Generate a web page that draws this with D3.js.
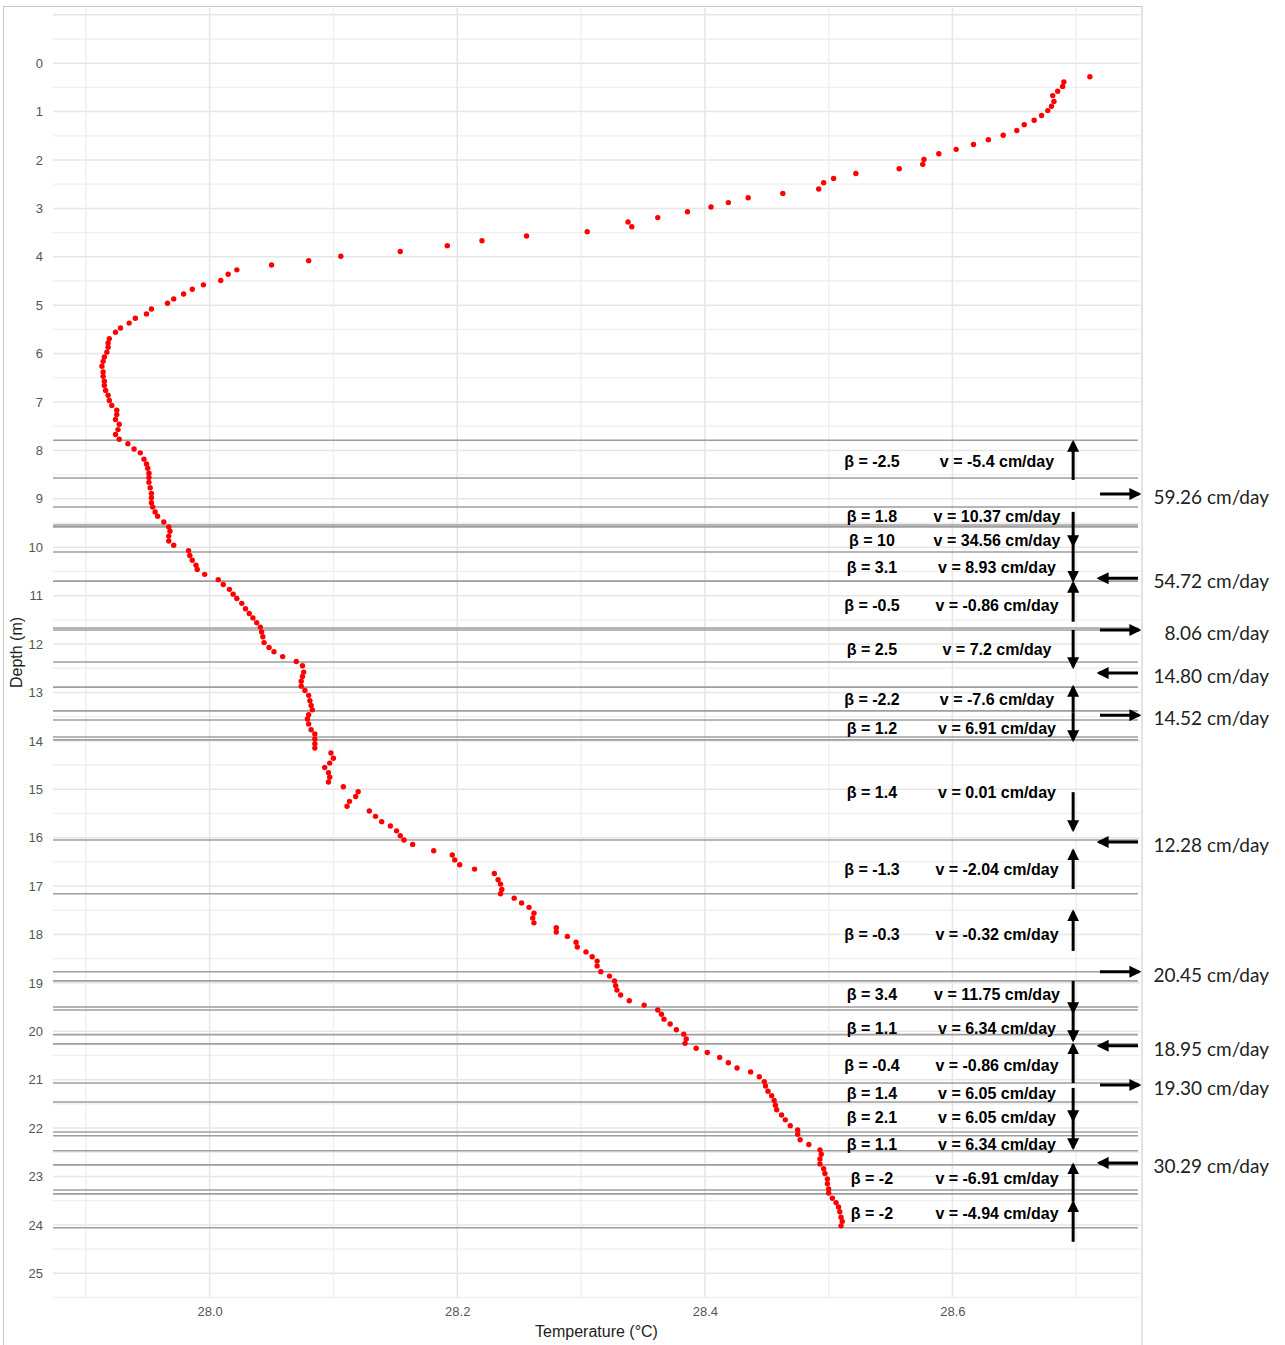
<!DOCTYPE html>
<html>
<head>
<meta charset="utf-8">
<script src="https://cdn.jsdelivr.net/npm/d3@7"></script>
<style>
  body { margin: 0; background: #fff; }
</style>
</head>
<body>
<div id="chart"></div>
<script>
// profil de température (profondeur en m, température en °C)
const depth = [0.28,0.39,0.48,0.58,0.67,0.79,0.89,0.98,1.08,1.18,1.27,1.39,1.49,1.58,1.68,1.78,1.87,1.99,2.09,2.18,
  2.28,2.38,2.47,2.60,2.69,2.78,2.88,2.97,3.07,3.19,3.28,3.38,3.48,3.57,3.67,3.77,3.89,3.99,4.08,4.17,
  4.27,4.36,4.49,4.58,4.67,4.77,4.87,4.96,5.08,5.18,5.27,5.37,5.47,5.56,5.69,5.78,5.87,5.97,6.07,6.16,
  6.26,6.38,6.47,6.57,6.66,6.76,6.86,6.97,7.07,7.17,7.26,7.36,7.46,7.57,7.67,7.77,7.86,7.97,8.05,8.18,
  8.28,8.37,8.47,8.56,8.66,8.77,8.89,8.98,9.08,9.17,9.27,9.36,9.48,9.58,9.67,9.77,9.87,9.96,10.07,10.17,
  10.27,10.37,10.46,10.56,10.67,10.77,10.87,10.97,11.06,11.16,11.27,11.37,11.46,11.56,11.65,11.75,11.85,11.97,12.07,12.16,
  12.26,12.36,12.45,12.58,12.67,12.77,12.87,12.96,13.06,13.17,13.27,13.36,13.46,13.55,13.65,13.77,13.86,13.96,14.06,14.15,
  14.25,14.36,14.46,14.55,14.66,14.75,14.85,14.95,15.05,15.15,15.25,15.35,15.45,15.56,15.67,15.76,15.86,15.96,16.05,16.14,
  16.27,16.36,16.46,16.56,16.65,16.74,16.87,16.96,17.07,17.16,17.25,17.35,17.44,17.56,17.66,17.76,17.86,17.95,18.04,18.16,
  18.26,18.36,18.46,18.55,18.65,18.77,18.86,18.96,19.06,19.15,19.25,19.37,19.46,19.56,19.65,19.75,19.85,19.97,20.06,20.16,
  20.25,20.35,20.44,20.54,20.65,20.76,20.84,20.94,21.04,21.13,21.24,21.33,21.43,21.53,21.62,21.73,21.83,21.95,22.04,22.13,
  22.24,22.34,22.45,22.54,22.64,22.74,22.84,22.94,23.05,23.15,23.26,23.34,23.45,23.54,23.63,23.73,23.84,23.93,24.02];
const temp = [28.711,28.690,28.689,28.685,28.681,28.682,28.680,28.677,28.672,28.666,28.658,28.652,28.641,28.629,28.617,28.603,28.589,28.577,28.576,28.557,
  28.522,28.504,28.496,28.492,28.463,28.435,28.419,28.405,28.386,28.362,28.338,28.341,28.305,28.256,28.220,28.192,28.154,28.106,28.080,28.050,
  28.022,28.015,28.009,27.995,27.986,27.979,27.971,27.966,27.953,27.949,27.940,27.935,27.928,27.924,27.919,27.918,27.918,27.917,27.915,27.914,
  27.913,27.914,27.914,27.915,27.915,27.916,27.918,27.919,27.921,27.925,27.925,27.924,27.927,27.926,27.924,27.927,27.934,27.939,27.944,27.947,
  27.949,27.950,27.951,27.951,27.951,27.952,27.953,27.953,27.953,27.954,27.956,27.958,27.963,27.967,27.968,27.967,27.967,27.971,27.983,27.984,
  27.986,27.989,27.990,27.996,28.007,28.011,28.016,28.019,28.022,28.026,28.029,28.032,28.035,28.038,28.041,28.042,28.043,28.044,28.048,28.052,
  28.059,28.070,28.075,28.076,28.075,28.074,28.074,28.077,28.080,28.081,28.082,28.083,28.080,28.079,28.080,28.082,28.085,28.085,28.085,28.085,
  28.098,28.100,28.097,28.093,28.096,28.097,28.096,28.108,28.120,28.118,28.113,28.111,28.129,28.134,28.139,28.146,28.151,28.154,28.157,28.164,
  28.181,28.196,28.198,28.202,28.214,28.230,28.233,28.235,28.236,28.235,28.246,28.252,28.258,28.262,28.261,28.262,28.280,28.280,28.289,28.296,
  28.297,28.304,28.309,28.313,28.313,28.316,28.323,28.327,28.328,28.329,28.332,28.339,28.351,28.362,28.365,28.367,28.372,28.377,28.383,28.385,
  28.384,28.393,28.402,28.412,28.419,28.426,28.437,28.444,28.448,28.449,28.451,28.454,28.456,28.457,28.458,28.462,28.465,28.469,28.475,28.475,
  28.477,28.484,28.493,28.494,28.493,28.493,28.496,28.497,28.499,28.499,28.500,28.500,28.503,28.506,28.508,28.509,28.510,28.511,28.510];

// limites des couches
const layerDepths = [7.79,8.57,9.17,9.54,9.58,10.10,10.70,11.67,11.71,12.37,12.89,13.38,13.57,13.92,13.98,
  16.05,17.16,18.77,18.96,19.50,19.56,20.07,20.26,21.07,21.46,22.08,22.16,22.47,22.76,23.28,23.36,24.06];

// étiquettes beta / vitesse verticale
const labelDepths = [8.22,9.36,9.85,10.41,11.19,12.10,13.14,13.73,15.06,16.65,17.99,19.23,19.93,20.70,21.29,21.77,22.33,23.03,23.75];
const betaLabels = ["-2.5","1.8","10","3.1","-0.5","2.5","-2.2","1.2","1.4","-1.3","-0.3","3.4","1.1","-0.4","1.4","2.1","1.1","-2","-2"];
const vLabels = ["-5.4","10.37","34.56","8.93","-0.86","7.2","-7.6","6.91","0.01","-2.04","-0.32","11.75","6.34","-0.86","6.05","6.05","6.34","-6.91","-4.94"];

// flèches verticales (queue -> pointe, en m)
const arrowFrom = [8.61,9.27,9.95,11.54,11.71,13.42,13.42,15.06,17.06,18.34,18.96,19.60,21.07,21.17,21.83,23.52,24.35];
const arrowTo   = [7.83,9.95,10.68,10.74,12.47,12.89,13.98,15.84,16.27,17.53,19.60,20.18,20.28,21.83,22.41,22.76,23.54];

// flux horizontaux
const sideDepths = [8.90,10.64,11.71,12.60,13.47,16.09,18.77,20.30,21.11,22.72];
const sideDirs   = ["right","left","right","left","right","left","right","left","right","left"];
const sideLabels = ["59.26","54.72","8.06","14.80","14.52","12.28","20.45","18.95","19.30","30.29"];

const xTicks = [28.0, 28.2, 28.4, 28.6];
const yTicks = [0,1,2,3,4,5,6,7,8,9,10,11,12,13,14,15,16,17,18,19,20,21,22,23,24,25];

const W = 1285, H = 1345;
const panel = {left: 53, right: 1140, top: 8, bottom: 1297};

const x = d3.scaleLinear().domain([27.8735, 28.7515]).range([panel.left, panel.right]);
const y = d3.scaleLinear().domain([-1.14, 25.49]).range([panel.top, panel.bottom]);

const svg = d3.select("#chart").append("svg")
  .attr("width", W).attr("height", H)
  .style("font-family", "'Liberation Sans', Arial, sans-serif");

svg.append("defs").append("marker")
  .attr("id", "head")
  .attr("viewBox", "0 0 10 10")
  .attr("refX", 8).attr("refY", 5)
  .attr("markerWidth", 4).attr("markerHeight", 4)
  .attr("markerUnits", "strokeWidth")
  .attr("orient", "auto")
  .append("path").attr("d", "M0,0 L10,5 L0,10 Z").attr("fill", "#000");

// cadre gris autour de la figure
svg.append("rect")
  .attr("x", 3.5).attr("y", 6.5).attr("width", 1138.5).attr("height", 1360)
  .attr("fill", "none").attr("stroke", "#c6c6c6");

// grille
const gMinorY = d3.range(-1, 25.6, 0.5).filter(v => v % 1 !== 0);
svg.append("g").selectAll("line").data(gMinorY).enter().append("line")
  .attr("x1", panel.left).attr("x2", panel.right)
  .attr("y1", d => y(d)).attr("y2", d => y(d))
  .attr("stroke", "#eeeeee").attr("stroke-width", 1.3);
svg.append("g").selectAll("line").data(d3.range(-1, 26, 1)).enter().append("line")
  .attr("x1", panel.left).attr("x2", panel.right)
  .attr("y1", d => y(d)).attr("y2", d => y(d))
  .attr("stroke", "#e6e6e6").attr("stroke-width", 1.5);
svg.append("g").selectAll("line").data([27.9, 28.1, 28.3, 28.5, 28.7]).enter().append("line")
  .attr("x1", d => x(d)).attr("x2", d => x(d))
  .attr("y1", panel.top).attr("y2", panel.bottom)
  .attr("stroke", "#eeeeee").attr("stroke-width", 1.3);
svg.append("g").selectAll("line").data(xTicks).enter().append("line")
  .attr("x1", d => x(d)).attr("x2", d => x(d))
  .attr("y1", panel.top).attr("y2", panel.bottom)
  .attr("stroke", "#e6e6e6").attr("stroke-width", 1.5);

// axes (texte seulement, comme theme_minimal)
const xAxis = svg.append("g")
  .attr("transform", `translate(0,${panel.bottom + 7})`)
  .call(d3.axisBottom(x).tickValues(xTicks).tickFormat(d3.format(".1f")).tickSize(0));
const yAxis = svg.append("g")
  .attr("transform", `translate(${panel.left - 7},0)`)
  .call(d3.axisLeft(y).tickValues(yTicks).tickFormat(d3.format("d")).tickSize(0));
[xAxis, yAxis].forEach(a => {
  a.select(".domain").remove();
  a.selectAll("text").attr("fill", "#555").style("font-size", "13px")
    .style("font-family", "'Liberation Sans', Arial, sans-serif");
});

svg.append("text")
  .attr("x", (panel.left + panel.right) / 2).attr("y", 1337)
  .attr("text-anchor", "middle").attr("fill", "#222").style("font-size", "16px")
  .text("Temperature (°C)");
svg.append("text")
  .attr("transform", `translate(22,${(panel.top + panel.bottom) / 2}) rotate(-90)`)
  .attr("text-anchor", "middle").attr("fill", "#222").style("font-size", "16px")
  .text("Depth (m)");

// limites des couches
svg.append("g").selectAll("line").data(layerDepths).enter().append("line")
  .attr("x1", panel.left).attr("x2", panel.right - 2)
  .attr("y1", d => y(d)).attr("y2", d => y(d))
  .attr("stroke", "#9e9e9e").attr("stroke-width", 1.6);

// points
const pts = depth.map((d, i) => ({d: d, t: temp[i]}));
svg.append("g").selectAll("circle").data(pts).enter().append("circle")
  .attr("cx", d => x(d.t)).attr("cy", d => y(d.d))
  .attr("r", 2.7).attr("fill", "#ff0000");

// étiquettes beta / v
const lab = svg.append("g")
  .style("font-weight", "bold").style("font-size", "16px").attr("fill", "#000");
lab.selectAll(".beta").data(labelDepths).enter().append("text")
  .attr("class", "beta")
  .attr("x", x(28.535)).attr("y", d => y(d)).attr("dy", "0.36em")
  .attr("text-anchor", "middle")
  .text((d, i) => "β = " + betaLabels[i]);
lab.selectAll(".vel").data(labelDepths).enter().append("text")
  .attr("class", "vel")
  .attr("x", x(28.636)).attr("y", d => y(d)).attr("dy", "0.36em")
  .attr("text-anchor", "middle")
  .text((d, i) => "v = " + vLabels[i] + " cm/day");

// flèches verticales
const ax = x(28.6975);
svg.append("g").selectAll("line").data(arrowFrom).enter().append("line")
  .attr("x1", ax).attr("x2", ax)
  .attr("y1", d => y(d)).attr("y2", (d, i) => y(arrowTo[i]))
  .attr("stroke", "#000").attr("stroke-width", 3)
  .attr("marker-end", "url(#head)");

// flèches horizontales + vitesses
const side = svg.append("g");
side.selectAll("line").data(sideDepths).enter().append("line")
  .attr("x1", (d, i) => sideDirs[i] === "right" ? 1100 : 1138)
  .attr("x2", (d, i) => sideDirs[i] === "right" ? 1139 : 1099)
  .attr("y1", d => y(d)).attr("y2", d => y(d))
  .attr("stroke", "#000").attr("stroke-width", 3)
  .attr("marker-end", "url(#head)");
side.selectAll("text").data(sideDepths).enter().append("text")
  .attr("x", 1269).attr("y", d => y(d) + 3).attr("dy", "0.36em")
  .attr("text-anchor", "end").attr("fill", "#222")
  .style("font-family", "Lato, 'Open Sans', sans-serif").style("font-size", "19px")
  .text((d, i) => sideLabels[i] + " cm/day");
</script>
</body>
</html>
